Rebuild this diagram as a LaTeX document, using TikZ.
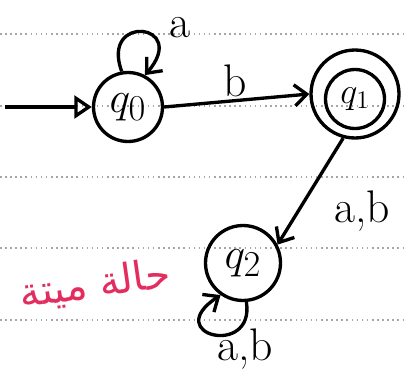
\documentclass[tikz,border=0pt]{standalone}
\usepackage{fontspec}
\usetikzlibrary{arrows.meta}
\newfontfamily\arabicfont[Script=Arabic]{DejaVu Sans}
\TeXXeTstate=1
\definecolor{inkred}{RGB}{228,45,95}
\begin{document}
\begin{tikzpicture}[x=0.02cm,y=0.02cm,
  ink/.style={line width=1.9pt,black},
  arr/.style={ink,-{Straight Barb[length=7pt,width=12pt,line width=1.9pt]}},
  state/.style={circle,draw,line width=1.9pt,inner sep=0pt,font=\fontsize{28}{32}\selectfont},
  lbl/.style={font=\fontsize{26}{30}\selectfont,inner sep=0pt},
  ruled/.style={gray!70,dotted,line width=0.9pt}]
\useasboundingbox (0,0) rectangle (405,373);
\fill[white] (0,0) rectangle (405,373);
% notebook lines
\foreach \yy in {339,267,196,125,53} \draw[ruled] (0,\yy) -- (405,\yy);
% states
\node[state,minimum size=1.38cm] (q0) at (128,266) {$q_0$};
\node[state,minimum size=1.76cm] (q1) at (355,279) {};
\node[state,minimum size=1.18cm,font=\fontsize{21}{25}\selectfont] (q1i) at (355,274) {$q_1$};
\node[state,minimum size=1.5cm] (q2) at (243,110) {$q_2$};
% initial arrow
\coordinate (start) at (5,266);
\draw[ink,-{Triangle[open,length=10pt,width=13pt,line width=1.9pt]}] (start) -- (q0.west);
% transitions
\draw[arr] (q0.east) -- (q1.west);
\node[lbl] (lb) at (235,292) {b};
\draw[arr] (q1.-105) -- (q2.28);
\node[lbl] (lab1) at (362,162) {a,b};
% self loops
\draw[arr] (q0.100) .. controls (100,360) and (190,350) .. (q0.62);
\node[lbl] (la) at (180,345) {a};
\draw[arr] (q2.-85) .. controls (255,15) and (160,38) .. (q2.-125);
\node[lbl] (lab2) at (245,24) {a,b};
% dead state note
\node[text=inkred,rotate=8,font=\fontsize{23}{27}\selectfont\arabicfont] (dead) at (95,88) {\beginR حالة ميتة\endR};
\end{tikzpicture}
\end{document}
